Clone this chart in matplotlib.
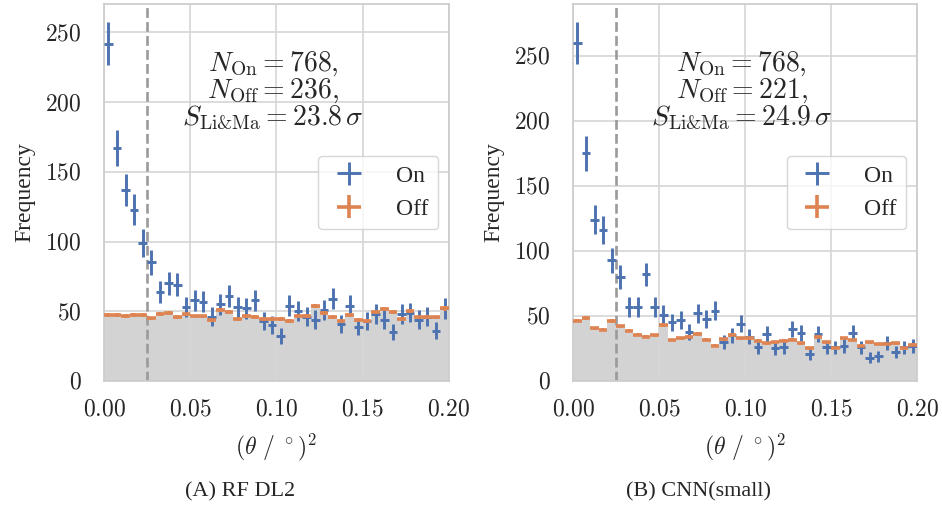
import numpy as np
import matplotlib.pyplot as plt
from matplotlib.ticker import StrMethodFormatter

plt.rcParams['font.family'] = ['Liberation Serif', 'DejaVu Serif']
plt.rcParams['mathtext.fontset'] = 'cm'

# theta^2 histogram, 40 bins between 0 and 0.2 deg^2
theta2_max = 0.2
n_bins = 40
theta2_cut = 0.025
alpha = 0.2  # on/off exposure ratio

# RF DL2
on_rf = [242, 167, 137, 123, 99, 85, 64, 70, 69, 53,
         58, 57, 46, 55, 61, 53, 52, 58, 43, 40,
         32, 54, 50, 46, 44, 51, 59, 41, 54, 39,
         43, 48, 44, 35, 48, 49, 44, 46, 36, 52]
off_rf = [47.3, 47.3, 46.6, 47.5, 47.3, 44.9, 48.2, 48.7, 46.1, 47.7,
          46.3, 46.3, 43.5, 50.9, 49.7, 44.4, 46.6, 45.8, 44.7, 44.7,
          44.7, 43.2, 46.8, 46.8, 53.5, 48.5, 46.0, 43.2, 47.3, 43.7,
          43.2, 49.2, 51.6, 49.2, 44.4, 50.4, 45.6, 46.0, 45.6, 52.0]

# CNN(small)
on_cnn = [260, 175, 124, 116, 93, 80, 57, 57, 82, 57,
          51, 45, 47, 38, 52, 48, 54, 30, 35, 44,
          34, 26, 36, 25, 26, 40, 37, 21, 36, 26,
          26, 27, 37, 26, 18, 19, 29, 22, 26, 27]
off_cnn = [46.5, 48.5, 40.5, 39.5, 46.0, 42.0, 38.7, 35.6, 34.0, 35.0,
           43.2, 31.5, 33.0, 34.0, 36.1, 31.7, 27.1, 32.2, 35.6, 33.0,
           33.0, 31.0, 28.9, 29.6, 30.9, 31.7, 28.9, 25.0, 34.0, 29.6,
           25.3, 33.0, 31.5, 27.1, 29.6, 28.4, 28.4, 28.9, 25.0, 27.8]

n_on = [768, 768]
n_off = [236, 221]
significance = [23.8, 24.9]
captions = ['(A) RF DL2', '(B) CNN(small)']

blue = '#4c72b0'
orange = '#dd8452'

edges = np.linspace(0, theta2_max, n_bins + 1)
centers = 0.5 * (edges[1:] + edges[:-1])
half_width = 0.5 * (edges[1] - edges[0])

fig = plt.figure(figsize=(9.42, 5.09), dpi=100)
axes = [fig.add_axes([0.1104, 0.2515, 0.3662, 0.7407]),
        fig.add_axes([0.6083, 0.2515, 0.3652, 0.7407])]

for i, (ax, on, off) in enumerate(zip(axes, [on_rf, on_cnn], [off_rf, off_cnn])):
    on = np.array(on, dtype=float)
    off = np.array(off, dtype=float)

    ax.stairs(off, edges, fill=True, color='#d3d3d3', zorder=1)
    ax.errorbar(centers, on, xerr=half_width, yerr=np.sqrt(on),
                ls='none', color=blue, elinewidth=2.1, label='On', zorder=3)
    ax.errorbar(centers, off, xerr=half_width, yerr=alpha * np.sqrt(off),
                ls='none', color=orange, elinewidth=2.6, label='Off', zorder=3)
    ax.axvline(theta2_cut, color='#9a9a9a', ls='--', lw=1.9, zorder=2)

    ax.set_xlim(0, theta2_max)
    ax.set_ylim(bottom=0)
    ax.set_xticks([0, 0.05, 0.1, 0.15, 0.2])
    ax.set_yticks([0, 50, 100, 150, 200, 250])
    ax.xaxis.set_major_formatter(StrMethodFormatter('${x:.2f}$'))
    ax.yaxis.set_major_formatter(StrMethodFormatter('${x:.0f}$'))
    ax.tick_params(axis='both', length=0, labelsize=17, colors='#262626')
    ax.tick_params(axis='y', pad=16)
    ax.tick_params(axis='x', pad=13)

    ax.set_axisbelow('line')
    ax.grid(True, color='#d6d6d6', lw=1.2, zorder=1.5)
    for s in ax.spines.values():
        s.set_color('#cccccc')
        s.set_linewidth(1.25)

    ax.set_ylabel('Frequency', fontsize=17, color='#262626')
    ax.yaxis.set_label_coords(-0.2, 0.5)
    ax.set_xlabel(r'$(\theta\ /\ ^\circ)^2$', fontsize=17, color='#262626')
    ax.xaxis.set_label_coords(0.5, -0.135)

    txt = (r'$N_\mathrm{On} = %d,$' '\n' r'$N_\mathrm{Off} = %d,$' '\n'
           r'$S_\mathrm{Li&Ma} = %.1f\,\sigma$') % (n_on[i], n_off[i], significance[i])
    ax.text(0.49, 0.77, txt, transform=ax.transAxes, ha='center', va='center',
            multialignment='center', fontsize=20, color='#262626', linespacing=0.95)

    leg = ax.legend(loc='center right', fontsize=17, borderaxespad=0.45,
                    handlelength=1.8, handletextpad=1.1, framealpha=0.8)
    leg.get_frame().set_edgecolor('#cccccc')
    for t in leg.get_texts():
        t.set_color('#262626')

    fig.text([0.255, 0.742][i], 0.033, captions[i], ha='center', va='center',
             fontsize=16, color='#262626')

fig.savefig('out.png', dpi=100)
